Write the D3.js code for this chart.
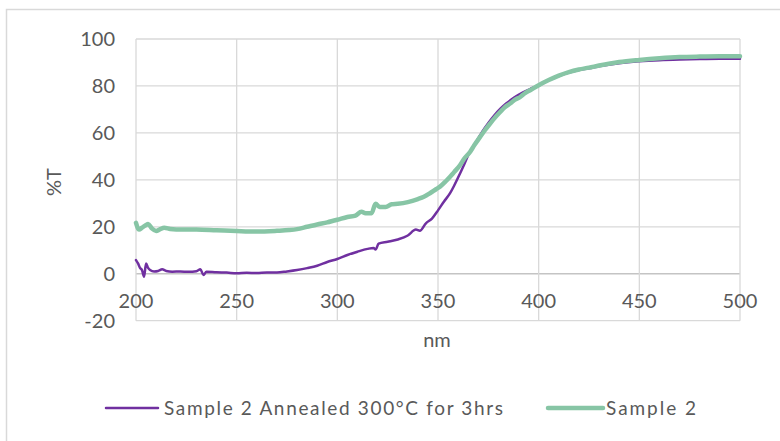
<!DOCTYPE html>
<html>
<head>
<meta charset="utf-8">
<script src="https://cdn.jsdelivr.net/npm/d3@7"></script>
<style>
  body { margin: 0; background: #fff; }
  svg text { font-family: Lato, "Open Sans", sans-serif; fill: #595959; }
</style>
</head>
<body>
<script>
  // Sample 2 Annealed 300°C for 3hrs
  var annealedNm = [200, 201, 202, 203, 204, 205, 206, 207, 209, 211, 213, 215, 218, 222, 226, 230, 232, 233.5, 235, 240,
    245, 250, 255, 260, 265, 270, 275, 280, 285, 290, 295, 300, 305, 310, 315, 318, 319, 320.5, 325, 330,
    335, 339, 341, 344, 347, 350, 353, 356, 358, 361, 363, 365, 368, 372, 375, 378, 381, 384, 388, 392,
    396, 400, 405, 410, 415, 420, 425, 430, 440, 450, 460, 470, 480, 490, 500];
  var annealedT = [5.8, 4.4, 2.5, 1.5, -1.3, 4.4, 2.5, 1.6, 1.0, 1.2, 1.9, 1.2, 0.9, 1.0, 0.8, 1.1, 1.9, -0.5, 0.9, 0.6,
    0.5, 0.2, 0.4, 0.3, 0.5, 0.5, 1.0, 1.6, 2.4, 3.4, 5.0, 6.3, 8.0, 9.4, 10.6, 11.0, 10.3, 12.8, 13.6, 14.6,
    16.3, 18.8, 18.3, 21.5, 23.5, 27.0, 30.8, 34.3, 37.5, 42.8, 46.5, 50.5, 54.8, 60.5, 64.2, 67.5, 70.3, 72.6, 75.2, 77.2,
    78.8, 80.2, 82.4, 84.2, 85.7, 86.8, 87.5, 88.4, 89.7, 90.5, 91.0, 91.3, 91.5, 91.6, 91.6];

  // Sample 2
  var sampleNm = [200, 201.5, 203, 205, 206, 208, 210, 212, 214, 217, 220, 230, 240, 250, 260, 270, 276, 280, 285, 290,
    295, 300, 305, 309, 312, 314, 317, 319, 321, 324, 327, 330, 335, 340, 343, 346, 349, 351, 354, 356,
    358, 361, 363, 366, 368, 371, 373, 376, 378, 381, 383, 386, 388, 391, 393, 396, 400, 405, 410, 415,
    420, 425, 430, 440, 450, 460, 470, 480, 490, 500];
  var sampleT = [21.7, 18.8, 19.6, 20.8, 21.2, 19.2, 18.2, 19.0, 19.6, 19.1, 18.9, 18.8, 18.5, 18.2, 18.0, 18.3, 18.6, 19.0, 20.0, 21.0,
    21.9, 23.0, 24.2, 24.8, 26.4, 25.8, 25.8, 29.8, 28.4, 28.4, 29.6, 29.8, 30.5, 31.8, 32.8, 34.3, 36.0, 37.1, 39.5, 41.3,
    43.3, 46.3, 49.0, 52.0, 54.7, 58.4, 60.8, 64.1, 66.2, 69.0, 70.8, 72.6, 74.0, 75.4, 76.8, 78.3, 80.3, 82.5, 84.4, 85.9,
    87.0, 87.8, 88.7, 90.2, 91.1, 91.8, 92.3, 92.5, 92.6, 92.6];

  var xTicks = [200, 250, 300, 350, 400, 450, 500];
  var yTicks = [-20, 0, 20, 40, 60, 80, 100];
  var seriesNames = ['Sample 2 Annealed 300\u00B0C for 3hrs', 'Sample 2'];
  var seriesColors = ['#7030a0', '#87c5a5'];

  var W = 780, H = 441;

  var svg = d3.select('body')
    .append('svg')
    .attr('width', W)
    .attr('height', H);

  // chart area border (runs off the picture to the right and bottom)
  svg.append('rect')
    .attr('x', 6.5).attr('y', 9.5)
    .attr('width', 800).attr('height', 500)
    .attr('fill', 'none')
    .attr('stroke', '#d9d9d9')
    .attr('stroke-width', 1.5);

  var x = d3.scaleLinear().domain([200, 500]).range([136, 740]),
      y = d3.scaleLinear().domain([-20, 100]).range([320.7, 39]);

  var grid = svg.append('g').attr('class', 'grid');

  grid.selectAll('line.h')
    .data(yTicks)
    .enter()
    .append('line')
    .attr('class', 'h')
    .attr('x1', x(200)).attr('x2', x(500))
    .attr('y1', function (d) { return y(d); })
    .attr('y2', function (d) { return y(d); })
    .attr('stroke', function (d) { return d === 0 ? '#c4c4c4' : '#d9d9d9'; })
    .attr('stroke-width', 1.3);

  grid.selectAll('line.v')
    .data(xTicks)
    .enter()
    .append('line')
    .attr('class', 'v')
    .attr('y1', y(-20)).attr('y2', y(100))
    .attr('x1', function (d) { return x(d); })
    .attr('x2', function (d) { return x(d); })
    .attr('stroke', '#d9d9d9')
    .attr('stroke-width', 1.3);

  // y tick labels
  svg.append('g')
    .selectAll('text')
    .data(yTicks)
    .enter()
    .append('text')
    .attr('x', 115)
    .attr('y', function (d) { return y(d); })
    .attr('dy', '0.35em')
    .attr('text-anchor', 'end')
    .style('font-size', '20px')
    .text(function (d) { return d; });

  // x tick labels, sitting under the zero line
  svg.append('g')
    .selectAll('text')
    .data(xTicks)
    .enter()
    .append('text')
    .attr('x', function (d) { return x(d); })
    .attr('y', y(0) + 27)
    .attr('dy', '0.35em')
    .attr('text-anchor', 'middle')
    .style('font-size', '20px')
    .text(function (d) { return d; });

  svg.append('text')
    .attr('transform', 'translate(54,182) rotate(-90)')
    .attr('text-anchor', 'middle')
    .attr('dy', '0.35em')
    .style('font-size', '20px')
    .text('%T');

  svg.append('text')
    .attr('x', 437).attr('y', 340)
    .attr('text-anchor', 'middle')
    .attr('dy', '0.35em')
    .style('font-size', '20px')
    .text('nm');

  var line = d3.line()
    .x(function (d) { return x(d[0]); })
    .y(function (d) { return y(d[1]); })
    .curve(d3.curveMonotoneX);

  var seriesData = [
    d3.zip(annealedNm, annealedT),
    d3.zip(sampleNm, sampleT)
  ];
  var widths = [2.5, 4.5];

  svg.append('g')
    .selectAll('path')
    .data(seriesData)
    .enter()
    .append('path')
    .attr('d', line)
    .attr('fill', 'none')
    .attr('stroke', function (d, i) { return seriesColors[i]; })
    .attr('stroke-width', function (d, i) { return widths[i]; })
    .attr('stroke-linejoin', 'round')
    .attr('stroke-linecap', 'round');

  // legend
  var legendPos = [
    {x1: 106, x2: 158, tx: 164, tw: 339},
    {x1: 548, x2: 603, tx: 606, tw: 90}
  ];
  var legend = svg.append('g')
    .selectAll('g')
    .data(seriesNames)
    .enter()
    .append('g');

  legend.append('line')
    .attr('x1', function (d, i) { return legendPos[i].x1; })
    .attr('x2', function (d, i) { return legendPos[i].x2; })
    .attr('y1', 408).attr('y2', 408)
    .attr('stroke', function (d, i) { return seriesColors[i]; })
    .attr('stroke-width', function (d, i) { return widths[i]; })
    .attr('stroke-linecap', 'round');

  legend.append('text')
    .attr('x', function (d, i) { return legendPos[i].tx; })
    .attr('y', 408)
    .attr('dy', '0.35em')
    .attr('textLength', function (d, i) { return legendPos[i].tw; })
    .attr('lengthAdjust', 'spacing')
    .style('font-size', '19px')
    .text(function (d) { return d; });
</script>
</body>
</html>
